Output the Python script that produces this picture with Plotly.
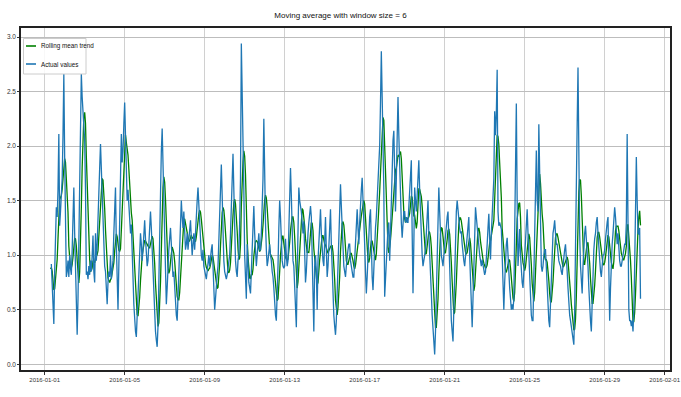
import pandas as pd
import numpy as np
import plotly.graph_objects as go

window = 6
series_start = "2016-01-01 02:00"

# values preceding the plotted part (consumed by the rolling window)
lead_values = [0.85, 0.90, 0.95, 0.90, 0.80, 0.85]

# hourly actual values, one row per 24 hours, starting 2016-01-01 08:00
actual_values = [
    0.92, 0.70, 0.45, 0.37, 0.85, 1.30, 1.44, 1.35, 1.60, 2.11, 1.27, 1.40, 1.55, 1.70, 2.10, 2.66, 1.90, 1.20, 0.80, 0.85, 0.95, 0.80, 1.00, 0.88,
    0.82, 1.05, 1.35, 1.62, 1.20, 0.85, 0.45, 0.27, 0.60, 1.10, 1.80, 2.20, 2.66, 2.45, 2.30, 2.20, 2.05, 1.60, 0.82, 0.85, 0.78, 0.90, 0.82, 0.95,
    0.85, 1.00, 1.18, 0.85, 0.75, 1.20, 0.95, 1.10, 1.40, 1.65, 1.80, 2.02, 1.75, 1.60, 1.30, 1.00, 0.90, 0.85, 0.70, 0.55, 0.75, 0.85, 0.80, 1.00,
    0.78, 0.85, 0.95, 1.20, 1.45, 1.62, 1.10, 0.70, 0.50, 0.90, 1.40, 1.75, 2.11, 1.85, 1.95, 2.20, 2.40, 2.10, 1.70, 1.50, 1.60, 1.45, 1.30, 1.20,
    1.28, 1.10, 0.80, 0.55, 0.40, 0.30, 0.25, 0.45, 0.70, 0.95, 1.05, 1.20, 1.10, 0.95, 1.05, 1.20, 1.32, 1.15, 1.00, 0.90, 0.95, 1.10, 1.30, 1.40,
    1.25, 1.05, 0.80, 0.60, 0.45, 0.30, 0.22, 0.16, 0.35, 0.80, 1.30, 1.70, 1.95, 2.16, 1.80, 1.40, 1.00, 0.75, 0.55, 0.70, 0.95, 1.05, 1.15, 1.25,
    1.10, 0.95, 0.80, 0.85, 0.70, 0.55, 0.45, 0.40, 0.60, 0.85, 1.10, 1.30, 1.50, 1.35, 1.25, 1.40, 1.20, 1.05, 1.10, 1.20, 1.05, 1.15, 1.25, 1.32,
    1.15, 1.00, 1.10, 1.20, 1.05, 1.25, 1.40, 1.50, 1.62, 1.45, 1.25, 1.15, 1.00, 0.95, 1.05, 0.90, 0.85, 0.80, 0.78, 0.85, 0.95, 1.00, 0.90, 1.00,
    1.05, 1.10, 0.85, 0.65, 0.50, 0.60, 0.75, 0.82, 0.90, 1.10, 1.35, 1.60, 1.83, 1.55, 1.20, 0.95, 0.85, 0.80, 0.78, 0.82, 0.88, 0.90, 1.00, 1.20,
    1.45, 1.70, 1.93, 1.60, 1.20, 0.95, 0.85, 0.80, 0.95, 1.00, 1.30, 1.70, 2.94, 2.30, 1.90, 1.60, 1.00, 0.70, 0.60, 1.10, 0.90, 0.75, 0.70, 0.65,
    0.85, 1.05, 1.25, 1.45, 1.20, 0.95, 0.90, 1.00, 1.10, 1.20, 1.05, 1.05, 1.20, 1.45, 1.70, 2.25, 1.40, 1.30, 1.05, 0.90, 0.95, 1.05, 1.10, 1.00,
    0.95, 0.85, 0.80, 0.70, 0.55, 0.45, 0.40, 0.60, 0.90, 1.25, 1.50, 1.35, 1.10, 0.95, 0.90, 0.88, 0.90, 1.15, 1.00, 0.90, 0.95, 1.20, 1.50, 1.80,
    1.55, 1.10, 0.95, 0.90, 0.70, 0.50, 0.34, 0.80, 1.30, 1.62, 1.50, 1.45, 1.40, 1.30, 1.20, 1.31, 0.95, 0.75, 0.85, 1.10, 1.20, 1.30, 1.40, 1.45,
    1.35, 1.05, 0.80, 0.30, 0.90, 1.00, 0.85, 0.50, 0.95, 1.15, 1.30, 1.42, 1.20, 1.05, 0.95, 0.90, 1.10, 1.35, 1.05, 0.80, 0.90, 1.05, 1.25, 1.42,
    1.10, 0.80, 0.55, 0.45, 0.35, 0.27, 0.40, 0.70, 0.95, 1.10, 1.40, 1.65, 1.45, 1.20, 1.05, 0.90, 0.85, 0.80, 0.90, 1.00, 1.05, 1.10, 1.10, 0.95,
    0.90, 0.85, 0.80, 0.80, 0.95, 1.15, 1.30, 1.42, 1.25, 1.10, 1.30, 1.50, 1.60, 1.71, 1.55, 1.35, 1.10, 0.85, 0.65, 0.80, 1.00, 1.20, 1.35, 1.42,
    1.00, 0.80, 0.68, 0.90, 1.10, 1.25, 1.35, 1.50, 1.65, 1.75, 2.00, 2.40, 2.87, 2.45, 2.10, 1.60, 0.62, 0.80, 1.00, 1.15, 1.25, 1.30, 0.95, 1.20,
    1.60, 1.90, 2.05, 2.14, 1.60, 1.40, 1.70, 2.20, 2.45, 2.10, 1.75, 1.50, 1.30, 1.16, 1.25, 1.40, 1.40, 1.30, 1.35, 1.30, 1.30, 1.45, 1.60, 1.75,
    1.87, 1.20, 0.65, 1.10, 1.62, 1.50, 1.40, 1.55, 1.70, 1.87, 1.60, 1.35, 1.15, 1.00, 0.90, 0.95, 1.00, 1.05, 1.20, 1.35, 1.50, 1.20, 0.95, 0.80,
    0.65, 0.45, 0.34, 0.20, 0.09, 0.30, 0.65, 1.00, 1.35, 1.62, 1.40, 1.15, 1.00, 0.95, 0.90, 1.00, 1.10, 1.20, 1.30, 1.35, 1.40, 1.10, 0.80, 0.55,
    0.40, 0.30, 0.21, 0.50, 0.90, 1.20, 1.40, 1.50, 1.40, 1.30, 1.25, 1.20, 1.22, 1.10, 1.00, 0.95, 0.90, 1.00, 1.10, 1.20, 1.30, 1.35, 1.00, 0.70,
    0.45, 0.34, 0.60, 0.95, 1.25, 1.44, 1.35, 1.25, 1.16, 1.05, 1.00, 0.95, 0.90, 0.96, 0.90, 0.85, 0.82, 0.85, 0.95, 1.10, 1.25, 1.38, 1.15, 0.96,
    1.20, 1.40, 1.50, 1.70, 2.32, 2.10, 2.30, 2.70, 1.40, 1.27, 1.30, 1.25, 1.24, 1.00, 0.70, 0.50, 0.75, 1.00, 1.10, 1.16, 0.95, 0.80, 0.70, 0.60,
    0.50, 0.55, 0.50, 0.60, 1.20, 1.80, 2.39, 1.50, 0.90, 1.05, 1.24, 1.00, 0.85, 0.75, 0.70, 0.85, 1.00, 1.20, 1.35, 1.42, 1.20, 1.00, 0.80, 0.60,
    0.45, 0.40, 0.40, 0.80, 1.30, 1.70, 1.96, 1.50, 1.40, 2.20, 1.70, 1.20, 0.90, 0.85, 0.90, 1.00, 1.05, 1.05, 0.90, 0.70, 0.50, 0.40, 0.34, 0.60,
    0.90, 1.10, 1.20, 1.25, 1.32, 1.20, 1.10, 1.10, 1.00, 0.95, 0.92, 0.90, 0.85, 0.82, 0.90, 1.00, 1.05, 1.10, 1.00, 0.85, 0.70, 0.55, 0.45, 0.40,
    0.35, 0.28, 0.22, 0.18, 0.50, 0.95, 1.60, 2.20, 2.72, 1.50, 1.20, 0.90, 0.75, 0.65, 0.90, 1.10, 1.20, 1.27, 1.15, 1.05, 0.90, 0.70, 0.50, 0.40,
    0.30, 0.55, 0.90, 1.05, 1.15, 1.20, 1.30, 1.35, 1.20, 1.05, 0.90, 0.85, 0.80, 0.90, 1.00, 1.00, 1.05, 1.15, 1.25, 1.30, 1.35, 0.90, 0.40, 0.70,
    0.95, 1.10, 1.20, 1.30, 1.44, 1.35, 1.20, 1.10, 1.20, 1.05, 0.95, 0.90, 0.90, 0.95, 1.00, 1.05, 1.10, 1.10, 1.30, 2.11, 1.00, 0.50, 0.40, 0.40,
    0.35, 0.40, 0.30, 0.50, 0.90, 1.40, 1.90, 1.50, 1.20, 1.19, 1.25, 0.60,
]

series_names = ["Rolling mean trend", "Actual values"]
series_colors = ["#008000", "#1f77b4"]
title_text = "Moving average with window size = 6"

x_tick_values = ["2016-01-01", "2016-01-05", "2016-01-09", "2016-01-13", "2016-01-17",
                 "2016-01-21", "2016-01-25", "2016-01-29", "2016-02-01"]
y_tick_values = [0.0, 0.5, 1.0, 1.5, 2.0, 2.5, 3.0]

values = lead_values + actual_values
idx = pd.date_range(series_start, periods=len(values), freq="h")
series = pd.Series(values, index=idx)
rolling_mean = series.rolling(window=window).mean()
shown = series[window:]
rm = rolling_mean.dropna()

FONT = "Liberation Sans, Arial, sans-serif"

fig = go.Figure()
fig.add_trace(go.Scatter(x=rm.index, y=rm.values, mode="lines", name=series_names[0],
                         line=dict(color=series_colors[0], width=1.3), showlegend=False))
fig.add_trace(go.Scatter(x=shown.index, y=shown.values, mode="lines", name=series_names[1],
                         line=dict(color=series_colors[1], width=1.3), showlegend=False))

# matplotlib-like 5% margins
xmin, xmax = rm.index.min(), shown.index.max()
span = xmax - xmin
xr = [xmin - 0.05 * span, xmax + 0.05 * span]
ymin = min(rm.min(), shown.min())
ymax = max(rm.max(), shown.max())
yspan = ymax - ymin
yr = [ymin - 0.05 * yspan, ymax + 0.05 * yspan]

W, H = 681, 397
L, R, T, B = 21, 11, 28, 27
pw, ph = W - L - R, H - T - B


def px(xp):
    return (xp - L) / pw


def py(yp):
    return 1 - (yp - T) / ph


shapes = [
    # legend frame (upper left, matplotlib style)
    dict(type="rect", xref="paper", yref="paper", x0=px(23.5), x1=px(86), y0=py(74), y1=py(38.5),
         line=dict(color="#cccccc", width=1), fillcolor="rgba(255,255,255,0.85)", layer="above"),
]
annotations = []
for i, (name, col) in enumerate(zip(series_names, series_colors)):
    yy = 46 + i * 18
    shapes.append(dict(type="line", xref="paper", yref="paper", x0=px(26), x1=px(36),
                       y0=py(yy), y1=py(yy), line=dict(color=col, width=1.6), layer="above"))
    annotations.append(dict(text=name, xref="paper", yref="paper", x=px(38.5), y=py(yy),
                            xanchor="left", yanchor="middle", showarrow=False,
                            font=dict(family=FONT, size=6.3, color="#111")))

fig.update_layout(
    width=W, height=H,
    margin=dict(l=L, r=R, t=T, b=B),
    paper_bgcolor="white", plot_bgcolor="white",
    title=dict(text=title_text, x=0.5, xanchor="center", xref="container",
               y=1 - 15 / H, yanchor="middle", yref="container",
               font=dict(family=FONT, size=8, color="#111")),
    font=dict(family=FONT, size=6, color="#333"),
    showlegend=False,
    shapes=shapes,
    annotations=annotations,
)
fig.update_xaxes(range=xr, tickvals=x_tick_values, ticktext=x_tick_values,
                 automargin=False, ticklabeloverflow="allow",
                 showgrid=True, gridcolor="#d0d0d0", gridwidth=1,
                 showline=True, linecolor="#222", linewidth=1.5, mirror=True,
                 ticks="outside", ticklen=3, tickcolor="#333", zeroline=False,
                 tickfont=dict(family=FONT, size=6, color="#333"))
fig.update_yaxes(range=yr, tickvals=y_tick_values, tickformat=".1f",
                 automargin=False, ticklabeloverflow="allow",
                 showgrid=True, gridcolor="#bdbdbd", gridwidth=1.3,
                 showline=True, linecolor="#222", linewidth=1.5, mirror=True,
                 ticks="outside", ticklen=2, tickcolor="#333", zeroline=False,
                 tickfont=dict(family=FONT, size=6.5, color="#333"))

fig.write_html("out.html", config={"displayModeBar": False},
               post_script="document.body.style.margin='0px';")
